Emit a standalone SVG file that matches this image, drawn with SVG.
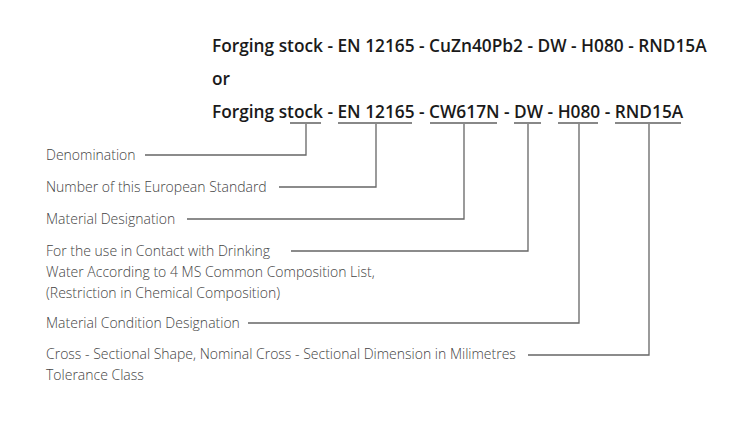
<svg xmlns="http://www.w3.org/2000/svg" width="750" height="421" viewBox="0 0 750 421">
<style>
.h{font-family:"Open Sans","Noto Sans",sans-serif;font-weight:600;font-size:17.3px;fill:#1a1a1a}
.l{font-family:"Open Sans","Noto Sans",sans-serif;font-weight:300;font-size:14px;fill:#444}
.ul{stroke:#888;stroke-width:2;fill:none}
.c{stroke:#666;stroke-width:1.3;fill:none}
</style>
<rect width="750" height="421" fill="#fff"/>
<g id="header">
<text class="h" x="212" y="52">Forging stock - EN 12165 - CuZn40Pb2 - DW - H080 - RND15A</text>
<text class="h" x="212" y="85">or</text>
<text class="h" x="212" y="118">Forging stock - EN 12165 - CW617N - DW - H080 - RND15A</text>
</g>
<g id="underlines">
<line class="ul" x1="290" y1="123" x2="321" y2="123"/>
<line class="ul" x1="338" y1="123" x2="412" y2="123"/>
<line class="ul" x1="430" y1="123" x2="497" y2="123"/>
<line class="ul" x1="514" y1="123" x2="541" y2="123"/>
<line class="ul" x1="558" y1="123" x2="598" y2="123"/>
<line class="ul" x1="615" y1="123" x2="681" y2="123"/>
</g>
<g id="n-denomination"><text class="l" x="46" y="160">Denomination</text></g>
<g id="n-standard"><text class="l" x="46" y="192">Number of this European Standard</text></g>
<g id="n-material"><text class="l" x="46" y="224">Material Designation</text></g>
<g id="n-dw"><text class="l" x="46" y="256">For the use in Contact with Drinking</text><text class="l" x="46" y="277">Water According to 4 MS Common Composition List,</text><text class="l" x="46" y="298">(Restriction in Chemical Composition)</text></g>
<g id="n-condition"><text class="l" x="46" y="328">Material Condition Designation</text></g>
<g id="n-shape"><text class="l" x="46" y="359">Cross - Sectional Shape, Nominal Cross - Sectional Dimension in Milimetres</text><text class="l" x="46" y="380">Tolerance Class</text></g>
<g id="connectors">
<polyline class="c" points="145,155 306,155 306,124"/>
<polyline class="c" points="279,187 376,187 376,124"/>
<polyline class="c" points="187,219 464,219 464,124"/>
<polyline class="c" points="291,251 528,251 528,124"/>
<polyline class="c" points="248,323 579,323 579,124"/>
<polyline class="c" points="528,355 649,355 649,124"/>
</g>
</svg>
